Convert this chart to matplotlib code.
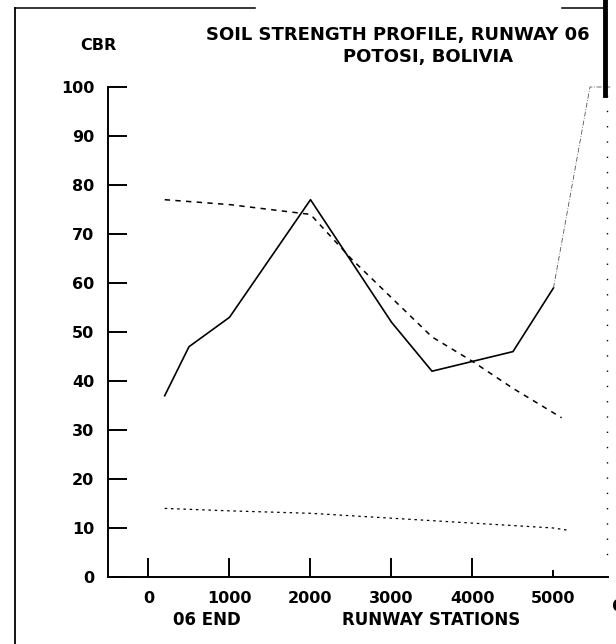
# -*- coding: utf-8 -*-
# Soil strength profile, runway 06 - Potosi, Bolivia (scanned plotter chart)
import matplotlib
matplotlib.use('Agg')
import matplotlib.pyplot as plt
from matplotlib.lines import Line2D

# runway station (ft) vs CBR
sta_solid = [200, 500, 1000, 2000, 3000, 3500, 4000, 4500, 5000]
cbr_solid = [37, 47, 53, 77, 52, 42, 44, 46, 59]
# faint continuation past station 5000 (clipped at CBR 100)
sta_faint = [5000, 5450, 5700]
cbr_faint = [59, 100, 100]
sta_dash = [200, 1000, 2000, 2500, 3000, 3500, 4000, 4500, 5000, 5100]
cbr_dash = [77, 76, 74, 65, 57, 49, 44, 38.5, 33.5, 32.5]
sta_dot = [200, 1000, 2000, 3000, 4000, 5000, 5200]
cbr_dot = [14, 13.5, 13, 12, 11, 10, 9.5]

xticks = [0, 1000, 2000, 3000, 4000, 5000]
yticks = [0, 10, 20, 30, 40, 50, 60, 70, 80, 90, 100]

plt.rcParams['font.family'] = ['DejaVu Sans']
plt.rcParams['font.weight'] = 'bold'

W, H = 616, 644
fig = plt.figure(figsize=(W / 100, H / 100), dpi=100)
ax = fig.add_axes([108 / W, (H - 577) / H, 500 / W, 490 / H])

ax.plot(sta_solid, cbr_solid, color='black', lw=1.2)
ax.plot(sta_faint, cbr_faint, color='#555555', lw=0.6, ls=(0, (6, 2, 1, 2)), clip_on=False)
ax.plot(sta_dash, cbr_dash, color='black', lw=1.1, ls=(0, (3.5, 3.5)))
ax.plot(sta_dot, cbr_dot, color='black', lw=0.9, ls=(0, (2, 3)))

ax.set_xlim(-500, 5673)
ax.set_ylim(0, 100)
ax.spines['top'].set_visible(False)
ax.spines['right'].set_visible(False)
for s in ['left', 'bottom']:
    ax.spines[s].set_linewidth(1.4)

ax.set_xticks(xticks)
ax.set_xticklabels([str(v) for v in xticks])
ax.set_yticks(yticks)
ax.set_yticklabels([str(v) for v in yticks])
ax.tick_params(direction='in', length=14, width=1.4, labelsize=11.5)
ax.tick_params(axis='x', pad=10)
ax.tick_params(axis='y', pad=10)
ax.xaxis.get_major_ticks()[5].tick1line.set_markersize(5)

# partially visible "6000" label beyond the cropped edge
ax.text(6000, -4.5, '6000', ha='center', va='top', fontsize=11.5,
        fontweight='bold', clip_on=False)

# texts around the plot
fig.text(98 / W, 1 - 46 / H, 'CBR', ha='center', va='center', fontsize=11.5, fontweight='bold')
fig.text(206 / W, 1 - 35 / H, 'SOIL STRENGTH PROFILE, RUNWAY 06', ha='left', va='center',
         fontsize=13, fontweight='bold')
fig.text(428 / W, 1 - 57 / H, 'POTOSI, BOLIVIA', ha='center', va='center',
         fontsize=13, fontweight='bold')
fig.text(207 / W, 1 - 620 / H, '06 END', ha='center', va='center', fontsize=12, fontweight='bold')
fig.text(431 / W, 1 - 620 / H, 'RUNWAY STATIONS', ha='center', va='center',
         fontsize=12, fontweight='bold')

# scan frame lines
def px_line(x0, y0, x1, y1, lw=1.2, **kw):
    fig.add_artist(Line2D([x0 / W, x1 / W], [1 - y0 / H, 1 - y1 / H],
                          transform=fig.transFigure, color='black', lw=lw, **kw))

px_line(15, 8, 15, H, lw=1.3)
px_line(15, 8, 255, 8, lw=1.1)
px_line(562, 8, 603, 8, lw=1.1)
px_line(605, 0, 605, 95, lw=3.5)
px_line(607, 95, 607, 560, lw=1.0, ls=(0, (1, 10)))

fig.savefig('out.png', dpi=100)
